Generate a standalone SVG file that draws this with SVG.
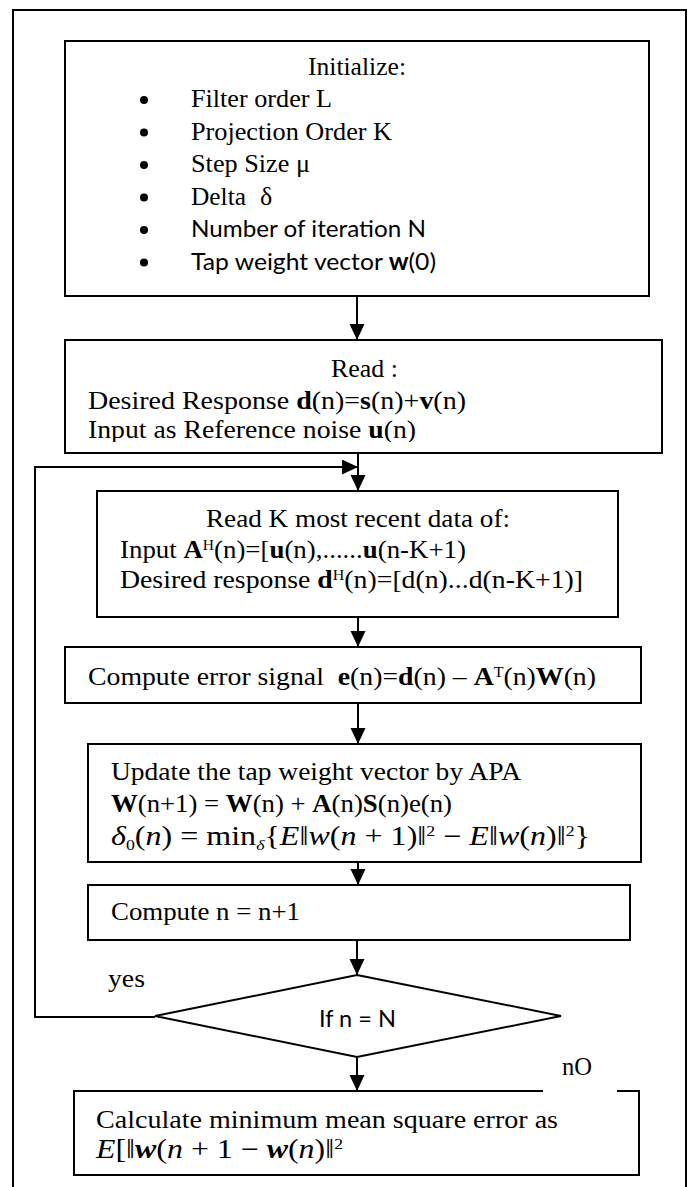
<svg xmlns="http://www.w3.org/2000/svg" width="692" height="1187" viewBox="0 0 692 1187">
  <style>
    .box { fill: #fff; stroke: #000; stroke-width: 2; }
    .edge { fill: none; stroke: #000; stroke-width: 2; }
    .tm { font-family: "Liberation Serif", serif; font-size: 26px; fill: #000; }
    .sn { font-family: "Lato", "Liberation Sans", sans-serif; font-size: 24px; fill: #000; }
    .cm { font-family: "Liberation Serif", serif; font-size: 26px; fill: #000; }
    .mt { font-family: "Liberation Serif", serif; font-size: 27px; fill: #000; }
    .b { font-weight: bold; }
    .i { font-style: italic; }
    .sup { font-size: 15px; }
  </style>
  <defs>
    <marker id="arrow" markerUnits="userSpaceOnUse" markerWidth="16" markerHeight="16" refX="16" refY="7.5" orient="auto">
      <path d="M0,0 L16,7.5 L0,15 Z" fill="#000"/>
    </marker>
    <clipPath id="readClip">
      <rect x="66" y="341" width="596" height="101"/>
    </clipPath>
  </defs>

  <!-- page frame -->
  <path class="edge" d="M13,1187 V10 H686 V1187"/>

  <!-- connectors -->
  <g id="connectors">
    <line class="edge" x1="357" y1="296" x2="357" y2="340" marker-end="url(#arrow)"/>
    <line class="edge" x1="358" y1="453" x2="358" y2="491" marker-end="url(#arrow)"/>
    <path class="edge" d="M155,1017 H35 V467 H358" marker-end="url(#arrow)"/>
    <line class="edge" x1="358" y1="617" x2="358" y2="647" marker-end="url(#arrow)"/>
    <line class="edge" x1="358" y1="703" x2="358" y2="744" marker-end="url(#arrow)"/>
    <line class="edge" x1="358" y1="862" x2="358" y2="885" marker-end="url(#arrow)"/>
    <line class="edge" x1="357" y1="940" x2="357" y2="975" marker-end="url(#arrow)"/>
    <line class="edge" x1="357" y1="1057" x2="357" y2="1091" marker-end="url(#arrow)"/>
  </g>

  <!-- initialisation -->
  <g id="init">
    <rect class="box" x="65" y="41" width="584" height="255"/>
    <text class="tm" x="308" y="75" textLength="98" lengthAdjust="spacingAndGlyphs">Initialize:</text>
    <g fill="#000">
      <circle cx="144" cy="100" r="4"/>
      <circle cx="144" cy="132.5" r="4"/>
      <circle cx="144" cy="165" r="4"/>
      <circle cx="144" cy="197.5" r="4"/>
      <circle cx="144" cy="230" r="4"/>
      <circle cx="144" cy="262.5" r="4"/>
    </g>
    <text class="tm" x="191" y="107" textLength="141" lengthAdjust="spacingAndGlyphs">Filter order L</text>
    <text class="tm" x="191" y="139.5" textLength="201" lengthAdjust="spacingAndGlyphs">Projection Order K</text>
    <text class="tm" x="191" y="172" textLength="119" lengthAdjust="spacingAndGlyphs">Step Size μ</text>
    <text class="tm" x="191" y="204.5"><tspan textLength="55" lengthAdjust="spacingAndGlyphs">Delta</tspan><tspan x="260">δ</tspan></text>
    <text class="sn" x="191" y="237" textLength="235" lengthAdjust="spacingAndGlyphs">Number of iteration N</text>
    <text class="sn" x="191" y="270" textLength="245" lengthAdjust="spacingAndGlyphs">Tap weight vector <tspan class="b">w</tspan>(0)</text>
  </g>

  <!-- read input -->
  <g id="read">
    <rect class="box" x="65" y="340" width="597" height="113"/>
    <text class="cm" x="331" y="377" textLength="67" lengthAdjust="spacingAndGlyphs">Read :</text>
    <text class="cm" x="88" y="409" textLength="378" lengthAdjust="spacingAndGlyphs">Desired Response <tspan class="b">d</tspan>(n)=<tspan class="b">s</tspan>(n)+<tspan class="b">v</tspan>(n)</text>
    <text class="cm" x="88" y="438" textLength="328" lengthAdjust="spacingAndGlyphs" clip-path="url(#readClip)">Input as Reference noise <tspan class="b">u</tspan>(n)</text>
  </g>

  <!-- read K recent samples -->
  <g id="readK">
    <rect class="box" x="97" y="491" width="521" height="126"/>
    <text class="cm" x="206" y="527" textLength="304" lengthAdjust="spacingAndGlyphs">Read K most recent data of:</text>
    <text class="cm" x="120" y="558" textLength="346" lengthAdjust="spacingAndGlyphs">Input <tspan class="b">A</tspan><tspan class="sup" dy="-8">H</tspan><tspan dy="8">(n)=[</tspan><tspan class="b">u</tspan>(n),......<tspan class="b">u</tspan>(n-K+1)</text>
    <text class="cm" x="120" y="588" textLength="463" lengthAdjust="spacingAndGlyphs">Desired response <tspan class="b">d</tspan><tspan class="sup" dy="-8">H</tspan><tspan dy="8">(n)=[d(n)...d(n-K+1)]</tspan></text>
  </g>

  <!-- error signal -->
  <g id="error">
    <rect class="box" x="65" y="647" width="576" height="56"/>
    <text class="cm" x="88" y="685" textLength="508" lengthAdjust="spacingAndGlyphs" xml:space="preserve">Compute error signal  <tspan class="b">e</tspan>(n)=<tspan class="b">d</tspan>(n) – <tspan class="b">A</tspan><tspan class="sup" dy="-8">T</tspan><tspan dy="8">(n)</tspan><tspan class="b">W</tspan>(n)</text>
  </g>

  <!-- weight update -->
  <g id="update">
    <rect class="box" x="88" y="744" width="553" height="118"/>
    <text class="cm" x="111" y="780" textLength="410" lengthAdjust="spacingAndGlyphs">Update the tap weight vector by APA</text>
    <text class="cm" x="111" y="812" textLength="341" lengthAdjust="spacingAndGlyphs"><tspan class="b">W</tspan>(n+1) = <tspan class="b">W</tspan>(n) + <tspan class="b">A</tspan>(n)<tspan class="b">S</tspan>(n)e(n)</text>
    <text class="mt" x="111" y="845" textLength="479" lengthAdjust="spacingAndGlyphs"><tspan class="i">δ</tspan><tspan class="sup" dy="5">0</tspan><tspan dy="-5">(</tspan><tspan class="i">n</tspan>) = min<tspan class="sup i" dy="5">δ</tspan><tspan dy="-5">{</tspan><tspan class="i">E</tspan>‖<tspan class="i">w</tspan>(<tspan class="i">n</tspan> + 1)‖<tspan class="sup" dy="-9">2</tspan><tspan dy="9"> − </tspan><tspan class="i">E</tspan>‖<tspan class="i">w</tspan>(<tspan class="i">n</tspan>)‖<tspan class="sup" dy="-9">2</tspan><tspan dy="9">}</tspan></text>
  </g>

  <!-- counter increment -->
  <g id="increment">
    <rect class="box" x="88" y="885" width="542" height="55"/>
    <text class="cm" x="111" y="920" textLength="189" lengthAdjust="spacingAndGlyphs">Compute n = n+1</text>
  </g>

  <!-- loop test -->
  <g id="test">
    <polygon class="box" points="357,975 561,1016 357,1057 155,1016"/>
    <text class="sn" x="319" y="1027" textLength="77" lengthAdjust="spacingAndGlyphs">If n = N</text>
    <text class="cm" x="108" y="987" textLength="37" lengthAdjust="spacingAndGlyphs">yes</text>
    <text class="tm" x="562" y="1075" font-size="23" textLength="30" lengthAdjust="spacingAndGlyphs">nO</text>
  </g>

  <!-- result -->
  <g id="result">
    <rect class="box" x="74" y="1091" width="565" height="84"/>
    <rect x="543" y="1088" width="74" height="5" fill="#fff"/>
    <text class="cm" x="96" y="1128" textLength="462" lengthAdjust="spacingAndGlyphs">Calculate minimum mean square error as</text>
    <text class="mt" x="96" y="1158" textLength="247" lengthAdjust="spacingAndGlyphs"><tspan class="i">E</tspan>[‖<tspan class="b i">w</tspan>(<tspan class="i">n</tspan> + 1 − <tspan class="b i">w</tspan>(<tspan class="i">n</tspan>)‖<tspan class="sup" dy="-9">2</tspan></text>
  </g>
</svg>
